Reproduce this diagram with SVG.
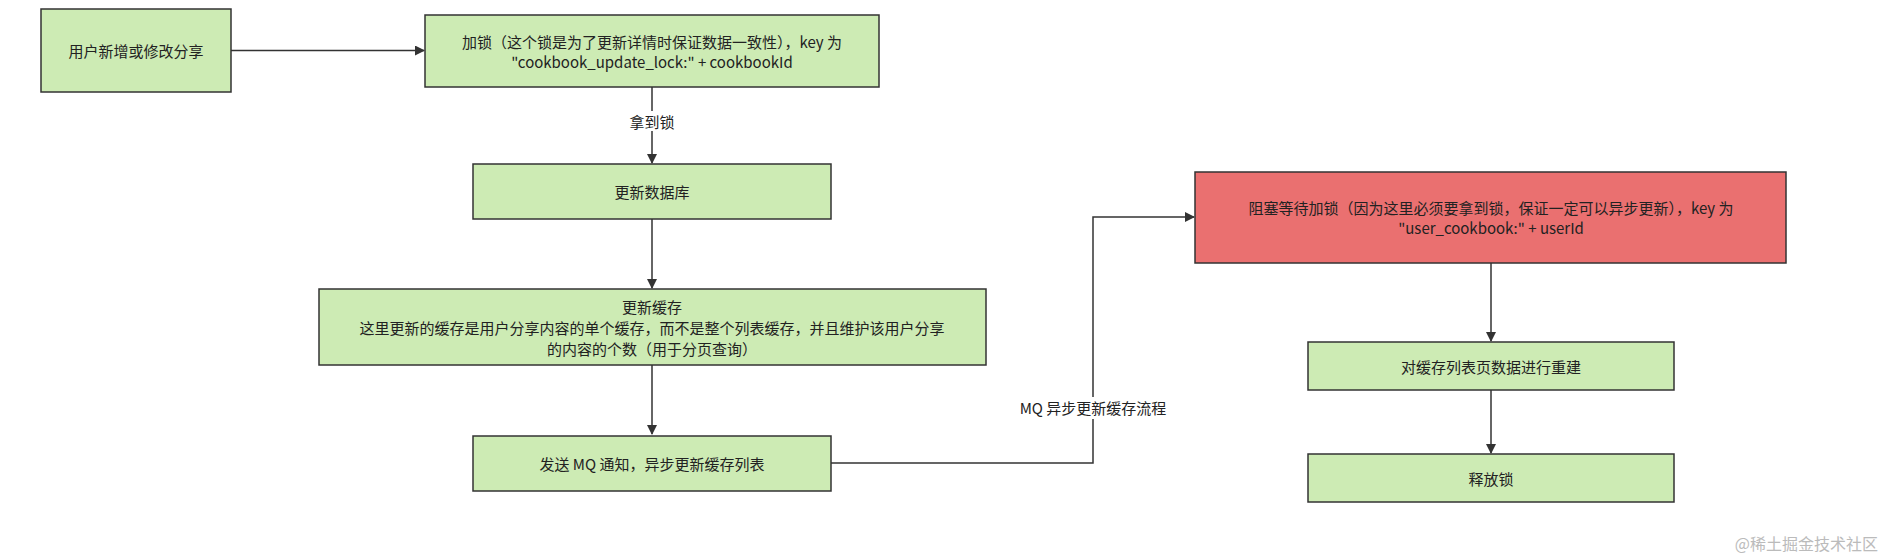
<svg xmlns="http://www.w3.org/2000/svg" width="1888" height="558" viewBox="0 0 1888 558">
<style>
.n{fill:#cdebb4;stroke:#333;stroke-width:1.5}
.r{fill:#ea7070;stroke:#333;stroke-width:1.5}
text{font-family:"Noto Sans CJK SC","Liberation Sans",sans-serif;font-size:15px;fill:#222;text-anchor:middle;dominant-baseline:central}
.c{fill:none;stroke:#333;stroke-width:1.5}
</style>
<defs><marker id="a" markerWidth="10" markerHeight="10" refX="9" refY="5" orient="auto" markerUnits="userSpaceOnUse"><path d="M0,0 L10,5 L0,10 Z" fill="#333"/></marker></defs>
<rect width="1888" height="558" fill="#fff"/>
<g id="connectors">
<path class="c" d="M231,50.5 H424" marker-end="url(#a)"/>
<path class="c" d="M652,87 V111"/>
<path class="c" d="M652,131 V163" marker-end="url(#a)"/>
<path class="c" d="M652,219 V288" marker-end="url(#a)"/>
<path class="c" d="M652,365 V434" marker-end="url(#a)"/>
<path class="c" d="M831,463 H1093 V217 H1194" marker-end="url(#a)"/>
<path class="c" d="M1491,263 V341" marker-end="url(#a)"/>
<path class="c" d="M1491,390 V453" marker-end="url(#a)"/>
<text x="652" y="121">拿到锁</text>
<rect x="1008" y="397" width="170" height="22" fill="#fff"/>
<text x="1093" y="407.5">MQ 异步更新缓存流程</text>
</g>
<g id="n1"><rect class="n" x="41" y="9" width="190" height="83"/><text x="136" y="50.5">用户新增或修改分享</text></g>
<g id="n2"><rect class="n" x="425" y="15" width="454" height="72"/><text x="652" y="41">加锁（这个锁是为了更新详情时保证数据一致性），key 为</text><text x="652" y="61">"cookbook_update_lock:" + cookbookId</text></g>
<g id="n3"><rect class="n" x="473" y="164" width="358" height="55"/><text x="652" y="191.5">更新数据库</text></g>
<g id="n4"><rect class="n" x="319" y="289" width="667" height="76"/><text x="652" y="306">更新缓存</text><text x="652" y="327">这里更新的缓存是用户分享内容的单个缓存，而不是整个列表缓存，并且维护该用户分享</text><text x="652" y="348">的内容的个数（用于分页查询）</text></g>
<g id="n5"><rect class="n" x="473" y="436" width="358" height="55"/><text x="652" y="463">发送 MQ 通知，异步更新缓存列表</text></g>
<g id="n6"><rect class="r" x="1195" y="172" width="591" height="91"/><text x="1491" y="207">阻塞等待加锁（因为这里必须要拿到锁，保证一定可以异步更新），key 为</text><text x="1491" y="227">"user_cookbook:" + userId</text></g>
<g id="n7"><rect class="n" x="1308" y="342" width="366" height="48"/><text x="1491" y="366">对缓存列表页数据进行重建</text></g>
<g id="n8"><rect class="n" x="1308" y="454" width="366" height="48"/><text x="1491" y="478">释放锁</text></g>
<text x="1878" y="543" style="text-anchor:end;fill:#bbb;font-size:16px">@稀土掘金技术社区</text>
</svg>
